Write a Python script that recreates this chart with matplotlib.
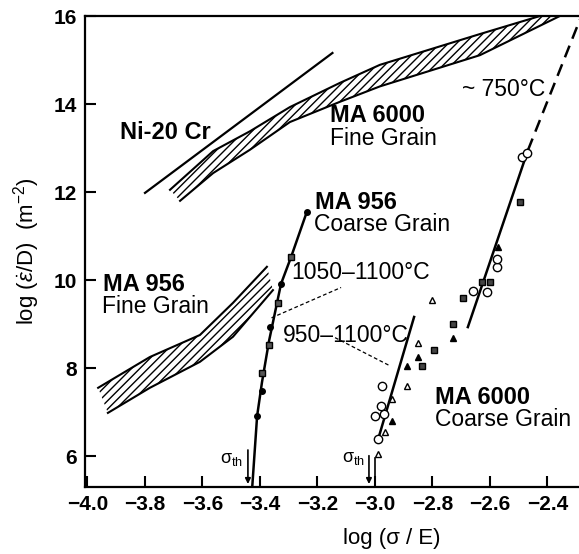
import matplotlib
matplotlib.use('Agg')
import matplotlib.pyplot as plt
import numpy as np

plt.rcParams['font.family'] = ['Liberation Sans', 'DejaVu Sans']
plt.rcParams['mathtext.fontset'] = 'custom'
plt.rcParams['mathtext.rm'] = 'Liberation Sans'
plt.rcParams['mathtext.it'] = 'Liberation Sans:italic'
plt.rcParams['hatch.linewidth'] = 1.0

# Ni-20Cr line
ni_x = [-3.80, -3.148]
ni_y = [11.98, 15.16]

# MA 6000 fine grain band (upper / lower edge)
fg6_up_x = [-3.713, -3.563, -3.435, -3.296, -3.122, -2.983, -2.635, -2.426]
fg6_up_y = [12.05, 12.93, 13.38, 13.93, 14.48, 14.89, 15.59, 16.0]
fg6_lo_x = [-3.678, -3.563, -3.435, -3.296, -3.122, -2.983, -2.635, -2.357]
fg6_lo_y = [11.80, 12.43, 12.96, 13.59, 14.05, 14.40, 15.11, 16.0]

# MA 956 fine grain band
fg9_up_x = [-3.963, -3.783, -3.609, -3.494, -3.376]
fg9_up_y = [7.55, 8.25, 8.75, 9.48, 10.30]
fg9_lo_x = [-3.929, -3.783, -3.609, -3.494, -3.355]
fg9_lo_y = [6.98, 7.55, 8.14, 8.71, 9.77]

# MA 956 coarse grain, 1050-1100 C
c9_circ_x = [-3.237, -3.327, -3.365, -3.393, -3.410]
c9_circ_y = [11.55, 9.91, 8.93, 7.48, 6.91]
c9_sq_x = [-3.292, -3.337, -3.369, -3.393]
c9_sq_y = [10.52, 9.48, 8.52, 7.89]
c9_line_x = [-3.428, -3.410, -3.393, -3.369, -3.327, -3.292, -3.237]
c9_line_y = [5.20, 6.91, 7.68, 8.60, 9.91, 10.52, 11.55]

# MA 6000 coarse grain
c6_ocirc_x = [-2.990, -3.000, -2.969, -2.979, -2.976, -2.659, -2.610, -2.576, -2.576, -2.489, -2.471]
c6_ocirc_y = [6.39, 6.91, 6.96, 7.14, 7.59, 9.75, 9.73, 10.30, 10.48, 12.80, 12.89]
c6_otri_x = [-2.965, -2.941, -2.889, -2.850, -2.802]
c6_otri_y = [6.55, 7.30, 7.59, 8.57, 9.55]
c6_ftri_x = [-2.941, -2.889, -2.850, -2.729, -2.572]
c6_ftri_y = [6.80, 8.05, 8.25, 8.68, 10.75]
c6_fsq_x = [-2.837, -2.795, -2.729, -2.694, -2.628, -2.600, -2.496]
c6_fsq_y = [8.05, 8.41, 9.00, 9.59, 9.96, 9.96, 11.77]

c6_line1_x = [-2.990, -2.864]
c6_line1_y = [6.36, 9.16]
c6_line2_x = [-2.677, -2.468]
c6_line2_y = [8.93, 12.95]
c6_dash_x = [-2.468, -2.27]
c6_dash_y = [12.95, 16.2]

fig = plt.figure(figsize=(5.79, 5.54), dpi=100)
ax = fig.add_axes([0.1468, 0.1209, 0.8532, 0.8502])

# hatched bands
for ux, uy, lx, ly in [(fg6_up_x, fg6_up_y, fg6_lo_x, fg6_lo_y),
                       (fg9_up_x, fg9_up_y, fg9_lo_x, fg9_lo_y)]:
    px = list(ux) + list(lx)[::-1]
    py = list(uy) + list(ly)[::-1]
    ax.fill(px, py, facecolor='none', edgecolor='black', hatch='////', linewidth=0)
    ax.plot(ux, uy, color='black', lw=1.5)
    ax.plot(lx, ly, color='black', lw=1.5)

ax.plot(ni_x, ni_y, color='black', lw=1.6)

ax.plot(c9_line_x, c9_line_y, color='black', lw=1.8)
ax.plot(c9_circ_x, c9_circ_y, 'o', color='black', ms=4)
ax.plot(c9_sq_x, c9_sq_y, 's', mfc='#555555', mec='black', ms=4)

ax.plot(c6_line1_x, c6_line1_y, color='black', lw=1.8)
ax.plot(c6_line2_x, c6_line2_y, color='black', lw=1.8)
ax.plot(c6_dash_x, c6_dash_y, color='black', lw=1.8, dashes=(5, 3))
ax.plot(c6_ocirc_x, c6_ocirc_y, 'o', mfc='white', mec='black', ms=6, mew=1)
ax.plot(c6_otri_x, c6_otri_y, '^', mfc='white', mec='black', ms=5, mew=1)
ax.plot(c6_ftri_x, c6_ftri_y, '^', color='black', ms=5)
ax.plot(c6_fsq_x, c6_fsq_y, 's', mfc='#444444', mec='black', ms=5)

# threshold arrows
arr = dict(arrowstyle='-|>', color='black', lw=1.2, mutation_scale=8)
ax.annotate('', xy=(-3.442, 5.30), xytext=(-3.442, 6.20), arrowprops=arr)
ax.annotate('', xy=(-3.021, 5.30), xytext=(-3.021, 6.07), arrowprops=arr)
ax.plot([-3.001, -3.001], [5.30, 5.95], color='black', lw=1.2)
ax.plot([-2.989], [6.05], marker='^', mfc='white', mec='black', ms=5)
ax.text(-3.539, 5.91, r'σ$_{\rm th}$', fontsize=13, va='center')
ax.text(-3.115, 5.95, r'σ$_{\rm th}$', fontsize=13, va='center')

# leaders
ax.plot([-3.36, -3.118], [9.14, 9.83], color='black', lw=0.9, ls=(0, (3, 2)))
ax.plot([-3.139, -2.948], [8.69, 8.05], color='black', lw=0.9, ls=(0, (3, 2)))

bold = dict(fontsize=17, fontweight='bold', va='center')
reg = dict(fontsize=16.5, va='center')
ax.text(-3.887, 13.36, 'Ni-20 Cr', **bold)
ax.text(-3.157, 13.74, 'MA 6000', **bold)
ax.text(-3.157, 13.22, 'Fine Grain', **reg)
ax.text(-3.209, 11.77, 'MA 956', **bold)
ax.text(-3.212, 11.27, 'Coarse Grain', **reg)
ax.text(-3.946, 9.89, 'MA 956', **bold)
ax.text(-3.950, 9.39, 'Fine Grain', **reg)
ax.text(-3.292, 10.16, '1050–1100°C', **reg)
ax.text(-3.320, 8.75, '950–1100°C', **reg)
ax.text(-2.791, 7.34, 'MA 6000', **bold)
ax.text(-2.791, 6.82, 'Coarse Grain', **reg)
ax.text(-2.697, 14.32, '~ 750°C', **reg)

ax.set_xlim(-4.0087, -2.2904)
ax.set_ylim(5.295, 16.0)
ax.set_xticks(np.arange(-4.0, -2.39, 0.2))
ax.set_xticklabels(['−4.0', '−3.8', '−3.6', '−3.4', '−3.2', '−3.0', '−2.8', '−2.6', '−2.4'])
ax.set_yticks([6, 8, 10, 12, 14, 16])
ax.tick_params(direction='in', length=8, width=1.5, labelsize=15, pad=6)
for lab in ax.get_xticklabels() + ax.get_yticklabels():
    lab.set_fontweight('bold')
ax.spines['right'].set_visible(False)
for s in ['left', 'bottom', 'top']:
    ax.spines[s].set_linewidth(1.6)

ax.set_ylabel(r'log ($\dot{ε}$/D)  (m$^{-2}$)', fontsize=16, labelpad=8)
ax.set_xlabel('log (σ / E)', fontsize=16)
ax.xaxis.set_label_coords(0.621, -0.088)

fig.savefig('out.png', dpi=100)
